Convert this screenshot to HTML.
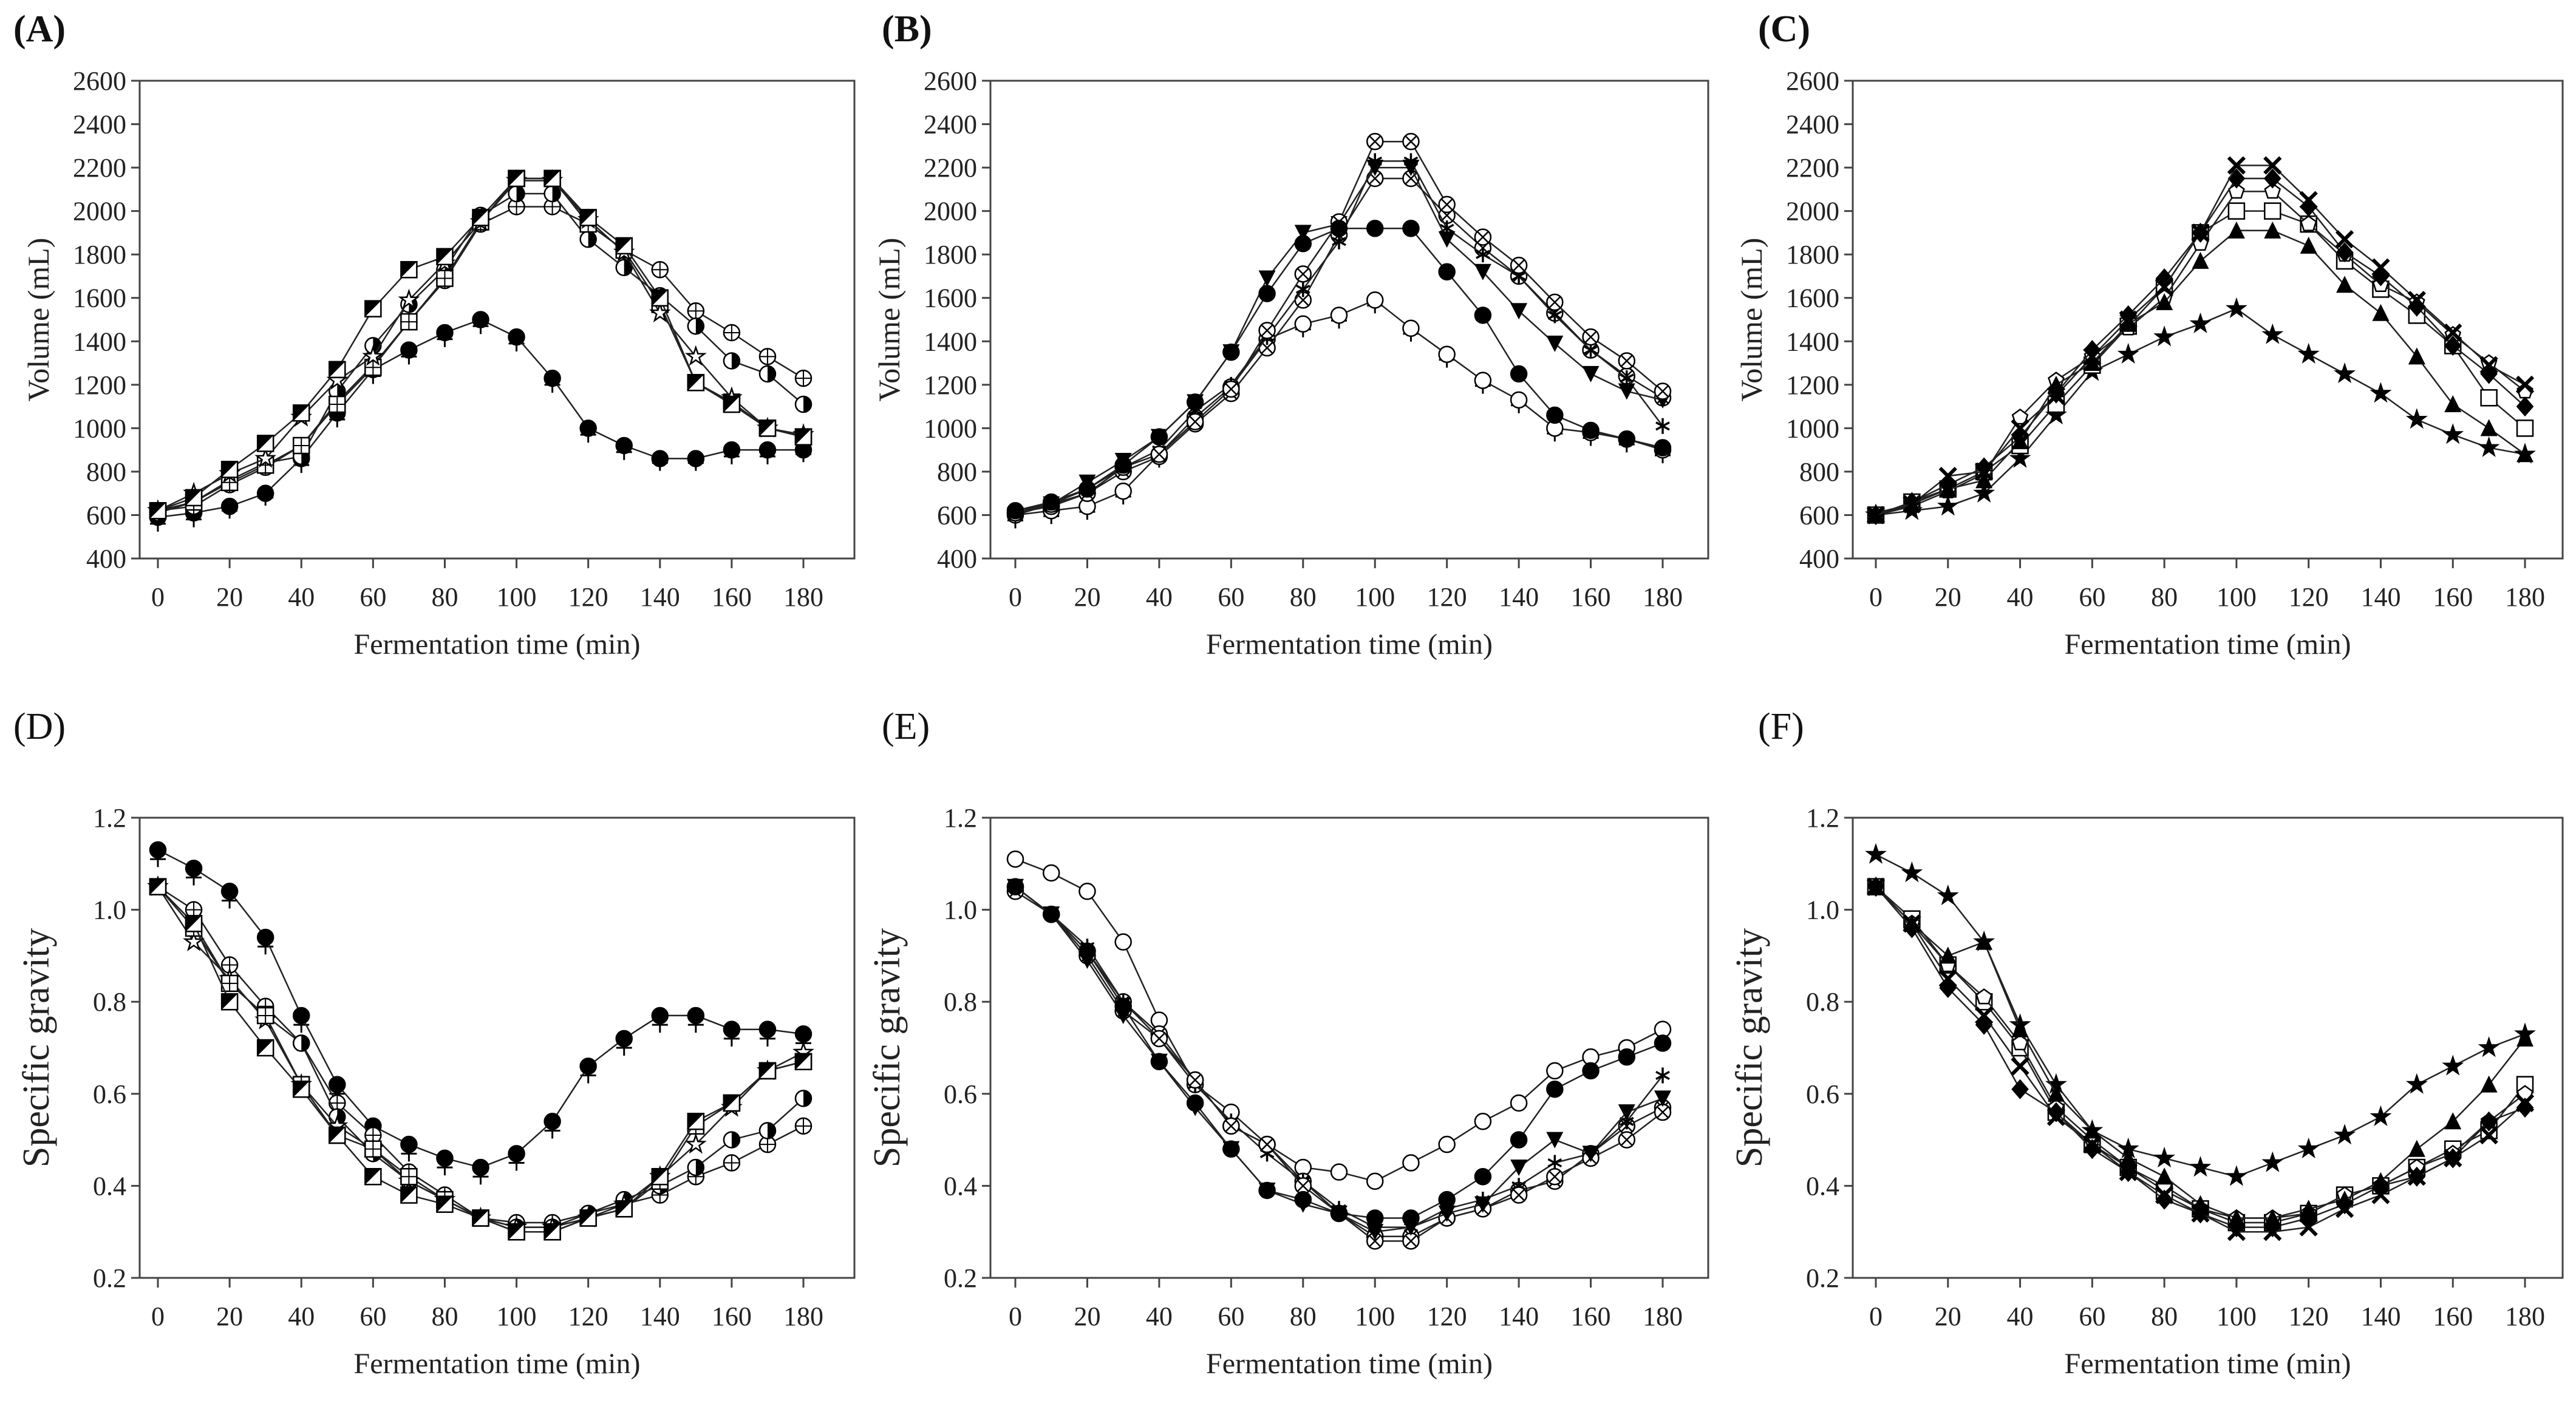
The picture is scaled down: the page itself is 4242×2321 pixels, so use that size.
<!DOCTYPE html>
<html><head><meta charset="utf-8">
<style>
html,body{margin:0;padding:0;background:#fff;}
svg{display:block;font-family:"Liberation Serif",serif;}
</style></head>
<body>
<svg id="fig" width="4242" height="2321" viewBox="0 0 4242 2321" xmlns="http://www.w3.org/2000/svg"></svg>
<script>
// ---------- data ----------
const times = [0,10,20,30,40,50,60,70,80,90,100,110,120,130,140,150,160,170,180];
const xTickLabels = [0,20,40,60,80,100,120,140,160,180];
const volTicks = [400,600,800,1000,1200,1400,1600,1800,2000,2200,2400,2600];
const sgTicks = [0.2,0.4,0.6,0.8,1.0,1.2];

const aCircle = [590,610,640,700,860,1070,1270,1360,1440,1500,1420,1230,1000,920,860,860,900,900,900];
const aPlus   = [560,580,620,680,830,1040,1240,1330,1410,1470,1390,1200,970,890,840,840,870,870,880];
const aHalfSq = [620,680,810,930,1070,1270,1550,1730,1790,1970,2150,2150,1970,1840,1600,1210,1110,1000,960];
const aCPlus  = [620,640,740,820,920,1120,1290,1490,1680,1940,2020,2020,1940,1820,1730,1540,1440,1330,1230];
const aHalfC  = [610,660,760,840,870,1170,1380,1570,1730,1980,2080,2080,1870,1740,1610,1470,1310,1250,1110];
const aStar   = [620,700,790,860,1050,1220,1330,1590,1760,1950,2140,2140,1960,1810,1530,1330,1140,1000,970];
const aGrid   = [620,660,750,830,920,1110,1280,1490,1690,1950,2150,2150,1940,1820,1570,1210,1120,1000,960];

const dCircle = [1.13,1.09,1.04,0.94,0.77,0.62,0.53,0.49,0.46,0.44,0.47,0.54,0.66,0.72,0.77,0.77,0.74,0.74,0.73];
const dPlus   = [1.11,1.07,1.02,0.92,0.75,0.60,0.51,0.47,0.44,0.42,0.45,0.52,0.64,0.70,0.75,0.75,0.72,0.72,0.71];
const dHalfSq = [1.05,0.97,0.80,0.70,0.61,0.51,0.42,0.38,0.36,0.33,0.30,0.30,0.33,0.35,0.42,0.54,0.58,0.65,0.67];
const dCPlus  = [1.05,1.00,0.88,0.79,0.71,0.58,0.51,0.43,0.38,0.33,0.32,0.32,0.34,0.36,0.38,0.42,0.45,0.49,0.53];
const dHalfC  = [1.05,0.97,0.84,0.77,0.71,0.55,0.47,0.41,0.37,0.33,0.31,0.31,0.34,0.37,0.40,0.44,0.50,0.52,0.59];
const dStar   = [1.05,0.93,0.85,0.76,0.62,0.53,0.48,0.41,0.37,0.33,0.31,0.31,0.33,0.36,0.42,0.49,0.57,0.65,0.69];
const dGrid   = [1.05,0.96,0.84,0.77,0.62,0.51,0.48,0.42,0.37,0.33,0.30,0.30,0.33,0.35,0.41,0.53,0.58,0.65,0.67];

const bOpen   = [600,620,640,710,880,1050,1190,1410,1480,1520,1590,1460,1340,1220,1130,1000,980,950,900];
const bPlus   = [575,595,615,685,855,1025,1165,1385,1455,1495,1565,1435,1315,1195,1105,975,955,925,875];
const bHex    = [610,650,700,820,880,1030,1180,1450,1710,1950,2320,2320,2030,1880,1750,1580,1420,1310,1170];
const bHeart  = [600,650,750,850,960,1120,1350,1690,1900,1940,2200,2200,1870,1720,1540,1390,1250,1170,1130];
const bAst    = [620,650,720,820,900,1080,1200,1420,1640,1860,2230,2230,1920,1800,1700,1520,1360,1230,1010];
const bClub   = [620,660,720,830,960,1120,1350,1620,1850,1920,1920,1920,1720,1520,1250,1060,990,950,910];
const bCCross = [610,640,700,800,870,1020,1160,1370,1590,1890,2150,2150,1980,1830,1700,1530,1360,1240,1140];

const eOpen   = [1.11,1.08,1.04,0.93,0.76,0.62,0.56,0.49,0.44,0.43,0.41,0.45,0.49,0.54,0.58,0.65,0.68,0.70,0.74];
const eClub   = [1.05,0.99,0.91,0.79,0.67,0.58,0.48,0.39,0.37,0.34,0.33,0.33,0.37,0.42,0.50,0.61,0.65,0.68,0.71];
const eHeart  = [1.05,0.99,0.89,0.77,0.67,0.57,0.48,0.39,0.36,0.34,0.30,0.31,0.34,0.36,0.44,0.50,0.47,0.56,0.59];
const eAst    = [1.05,0.99,0.92,0.80,0.72,0.62,0.54,0.47,0.41,0.35,0.31,0.31,0.35,0.37,0.40,0.45,0.47,0.54,0.64];
const eHex    = [1.05,0.99,0.90,0.78,0.72,0.63,0.53,0.49,0.40,0.34,0.28,0.28,0.33,0.35,0.38,0.42,0.46,0.50,0.56];
const eCCross = [1.04,0.99,0.91,0.80,0.73,0.63,0.53,0.49,0.41,0.34,0.29,0.29,0.33,0.35,0.39,0.41,0.47,0.53,0.57];

const cStar   = [600,620,640,700,860,1060,1260,1340,1420,1480,1550,1430,1340,1250,1160,1040,970,910,880];
const cX      = [600,650,780,800,1000,1150,1330,1500,1650,1900,2210,2210,2050,1870,1740,1590,1440,1290,1200];
const cDiam   = [600,660,740,820,960,1160,1360,1520,1690,1900,2150,2150,2020,1810,1700,1560,1380,1250,1100];
const cTri    = [610,650,720,760,940,1200,1300,1480,1580,1770,1910,1910,1840,1660,1530,1330,1110,1000,880];
const cSq     = [600,660,720,800,920,1110,1290,1470,1650,1900,2000,2000,1940,1770,1640,1520,1380,1140,1000];
const cPent   = [600,640,710,790,1050,1220,1330,1460,1600,1850,2090,2090,1940,1800,1660,1580,1430,1300,1170];

const fStar   = [1.12,1.08,1.03,0.93,0.75,0.62,0.52,0.48,0.46,0.44,0.42,0.45,0.48,0.51,0.55,0.62,0.66,0.70,0.73];
const fTri    = [1.05,0.97,0.90,0.93,0.74,0.60,0.52,0.46,0.42,0.36,0.33,0.33,0.35,0.37,0.41,0.48,0.54,0.62,0.72];
const fX      = [1.05,0.97,0.85,0.77,0.66,0.55,0.49,0.43,0.38,0.34,0.30,0.30,0.31,0.35,0.38,0.42,0.46,0.51,0.58];
const fDiam   = [1.05,0.96,0.83,0.75,0.61,0.56,0.48,0.43,0.37,0.34,0.31,0.31,0.33,0.36,0.40,0.42,0.46,0.54,0.57];
const fSq     = [1.05,0.98,0.88,0.80,0.70,0.56,0.49,0.44,0.39,0.35,0.32,0.32,0.34,0.38,0.40,0.44,0.48,0.52,0.62];
const fPent   = [1.05,0.97,0.88,0.81,0.71,0.57,0.50,0.44,0.40,0.35,0.33,0.33,0.34,0.38,0.40,0.44,0.47,0.54,0.60];

// ---------- drawing ----------
const NS = "http://www.w3.org/2000/svg";
const svg = document.getElementById('fig');
function mk(tag, attrs, parent){
  const e = document.createElementNS(NS, tag);
  for (const k in attrs) e.setAttribute(k, attrs[k]);
  (parent||svg).appendChild(e);
  return e;
}
const R = 13;
function marker(g, type, x, y){
  const s = {stroke:'#000','stroke-width':2.5};
  let e;
  const circ = (fill)=>mk('circle',Object.assign({cx:x,cy:y,r:R,fill:fill},s),g);
  switch(type){
    case 'fc': case 'club': e = circ('#000'); break;
    case 'oc': e = circ('#fff'); break;
    case 'plus':
      e = mk('path',{d:`M${x-R} ${y}H${x+R}M${x} ${y-R}V${y+R}`,stroke:'#000','stroke-width':3,fill:'none'},g); break;
    case 'cplus':
      circ('#fff');
      e = mk('path',{d:`M${x-R} ${y}H${x+R}M${x} ${y-R}V${y+R}`,stroke:'#000','stroke-width':2,fill:'none'},g); break;
    case 'ccross': case 'hex':
      circ('#fff');
      e = mk('path',{d:`M${x-9} ${y-9}L${x+9} ${y+9}M${x+9} ${y-9}L${x-9} ${y+9}`,stroke:'#000','stroke-width':2.5,fill:'none'},g); break;
    case 'hc':
      circ('#fff');
      e = mk('path',{d:`M${x} ${y-R}A${R} ${R} 0 0 1 ${x} ${y+R}Z`,fill:'#000'},g); break;
    case 'hsq':
      mk('rect',Object.assign({x:x-R,y:y-R,width:2*R,height:2*R,fill:'#fff'},s),g);
      e = mk('path',{d:`M${x-R} ${y-R}H${x+R}L${x-R} ${y+R}Z`,fill:'#000'},g); break;
    case 'grid':
      mk('rect',Object.assign({x:x-R,y:y-R,width:2*R,height:2*R,fill:'#fff'},s),g);
      e = mk('path',{d:`M${x-R} ${y}H${x+R}M${x} ${y-R}V${y+R}`,stroke:'#000','stroke-width':2,fill:'none'},g); break;
    case 'sq':
      e = mk('rect',Object.assign({x:x-R,y:y-R,width:2*R,height:2*R,fill:'#fff'},s),g); break;
    case 'star': case 'fstar': {
      let p=[]; for(let i=0;i<10;i++){const a=-Math.PI/2+i*Math.PI/5; const rr=i%2?R*0.45:R*1.15; p.push((x+rr*Math.cos(a)).toFixed(1)+','+(y+rr*Math.sin(a)).toFixed(1));}
      e = mk('polygon',Object.assign({points:p.join(' '),fill:type==='fstar'?'#000':'#fff'},s),g); break; }
    case 'x':
      e = mk('path',{d:`M${x-R} ${y-R}L${x+R} ${y+R}M${x+R} ${y-R}L${x-R} ${y+R}`,stroke:'#000','stroke-width':6,fill:'none'},g); break;
    case 'diam':
      e = mk('polygon',{points:`${x},${y-R-2} ${x+R},${y} ${x},${y+R+2} ${x-R},${y}`,fill:'#000',stroke:'#000','stroke-width':2},g); break;
    case 'tri':
      e = mk('polygon',{points:`${x},${y-R-2} ${x+R+1},${y+R} ${x-R-1},${y+R}`,fill:'#000'},g); break;
    case 'heart':
      e = mk('polygon',{points:`${x-R-1},${y-R} ${x+R+1},${y-R} ${x},${y+R+1}`,fill:'#000'},g); break;
    case 'ast':
      e = mk('path',{d:`M${x} ${y-R}V${y+R}M${x-11} ${y-6}L${x+11} ${y+6}M${x+11} ${y-6}L${x-11} ${y+6}`,stroke:'#000','stroke-width':3.5,fill:'none'},g); break;
    case 'pent': {
      let p=[]; for(let i=0;i<5;i++){const a=-Math.PI/2+i*2*Math.PI/5; p.push((x+R*Math.cos(a)).toFixed(1)+','+(y+R*Math.sin(a)).toFixed(1));}
      e = mk('polygon',Object.assign({points:p.join(' '),fill:'#fff'},s),g); break; }
  }
}

function panel(cfg){
  const g = mk('g',{});
  
  
  const {L,Rt,T,B,x0,x1,yMin,yMax} = cfg;
  const X = v => x0 + (v-0)/(180-0)*(x1-x0);
  const Y = v => B - (v-yMin)/(yMax-yMin)*(B-T);
  const frame = mk('rect',{x:L,y:T,width:Rt-L,height:B-T,fill:'none',stroke:'#444','stroke-width':3},g);
  
  
  // y ticks
  cfg.yTicks.forEach(v=>{
    const y = Y(v);
    mk('line',{x1:L-14,x2:L,y1:y,y2:y,stroke:'#444','stroke-width':3},g);
    const t = mk('text',{x:L-22,y:y+15,'text-anchor':'end','font-size':44,fill:'#222'},g);
    
    
    t.textContent = cfg.fmt(v);
  });
  // x ticks
  xTickLabels.forEach(v=>{
    const x = X(v);
    mk('line',{x1:x,x2:x,y1:B,y2:B+16,stroke:'#444','stroke-width':3},g);
    const t = mk('text',{x:x,y:B+78,'text-anchor':'middle','font-size':44,fill:'#222'},g);
    
    
    t.textContent = v;
  });
  const xt = mk('text',{x:(L+Rt)/2,y:B+157,'text-anchor':'middle','font-size':48,fill:'#222'},g);
  
  
  xt.textContent = 'Fermentation time (min)';
  const yc = (T+B)/2;
  const yt = mk('text',{x:0,y:0,'text-anchor':'middle','font-size':cfg.yFont,fill:'#222',transform:`translate(${L-150},${yc}) rotate(-90)`},g);
  
  
  yt.textContent = cfg.ylabel;
  const lt = mk('text',{x:cfg.lx,y:T-cfg.lOff,'font-size':62,'font-weight':cfg.bold?'bold':'normal',fill:'#111'},g);
  
  
  lt.textContent = cfg.letter;
  // series
  cfg.series.forEach(s=>{
    const sg = mk('g',{},g);
    
    
    const d = s.v.map((v,i)=>(i?'L':'M')+X(times[i]).toFixed(1)+' '+Y(v).toFixed(1)).join('');
    if (s.m!=='plus') mk('path',{d:d,fill:'none',stroke:'#222','stroke-width':2.5},sg);
    s.v.forEach((v,i)=>marker(sg,s.m,X(times[i]),Y(v)));
  });
}
const fv = v=>String(v);
const fs = v=>v.toFixed(1);
const topT=133, topB=920, botT=1347, botB=2105;
panel({name:'panel-a',letter:'(A)',bold:true,lx:22,lOff:65,L:230,Rt:1407,T:topT,B:topB,x0:260,x1:1323,yMin:400,yMax:2600,yTicks:volTicks,fmt:fv,ylabel:'Volume (mL)',yFont:50,
  series:[{v:aPlus,m:'plus'},{v:aCircle,m:'fc'},{v:aCPlus,m:'cplus'},{v:aHalfC,m:'hc'},{v:aGrid,m:'grid'},{v:aStar,m:'star'},{v:aHalfSq,m:'hsq'}]});
panel({name:'panel-b',letter:'(B)',bold:true,lx:1452,lOff:65,L:1631,Rt:2813,T:topT,B:topB,x0:1672,x1:2738,yMin:400,yMax:2600,yTicks:volTicks,fmt:fv,ylabel:'Volume (mL)',yFont:50,
  series:[{v:bPlus,m:'plus'},{v:bOpen,m:'oc'},{v:bCCross,m:'ccross'},{v:bAst,m:'ast'},{v:bHeart,m:'heart'},{v:bHex,m:'hex'},{v:bClub,m:'club'}]});
panel({name:'panel-c',letter:'(C)',bold:true,lx:2895,lOff:65,L:3051,Rt:4220,T:topT,B:topB,x0:3089,x1:4158,yMin:400,yMax:2600,yTicks:volTicks,fmt:fv,ylabel:'Volume (mL)',yFont:50,
  series:[{v:cStar,m:'fstar'},{v:cSq,m:'sq'},{v:cPent,m:'pent'},{v:cDiam,m:'diam'},{v:cTri,m:'tri'},{v:cX,m:'x'}]});
panel({name:'panel-d',letter:'(D)',bold:false,lx:22,lOff:130,L:230,Rt:1407,T:botT,B:botB,x0:260,x1:1323,yMin:0.2,yMax:1.2,yTicks:sgTicks,fmt:fs,ylabel:'Specific gravity',yFont:62,
  series:[{v:dPlus,m:'plus'},{v:dCircle,m:'fc'},{v:dCPlus,m:'cplus'},{v:dHalfC,m:'hc'},{v:dStar,m:'star'},{v:dGrid,m:'grid'},{v:dHalfSq,m:'hsq'}]});
panel({name:'panel-e',letter:'(E)',bold:false,lx:1452,lOff:130,L:1631,Rt:2813,T:botT,B:botB,x0:1672,x1:2738,yMin:0.2,yMax:1.2,yTicks:sgTicks,fmt:fs,ylabel:'Specific gravity',yFont:62,
  series:[{v:eOpen,m:'oc'},{v:eCCross,m:'ccross'},{v:eAst,m:'ast'},{v:eHex,m:'hex'},{v:eHeart,m:'heart'},{v:eClub,m:'club'}]});
panel({name:'panel-f',letter:'(F)',bold:false,lx:2895,lOff:130,L:3051,Rt:4220,T:botT,B:botB,x0:3089,x1:4158,yMin:0.2,yMax:1.2,yTicks:sgTicks,fmt:fs,ylabel:'Specific gravity',yFont:62,
  series:[{v:fStar,m:'fstar'},{v:fSq,m:'sq'},{v:fPent,m:'pent'},{v:fDiam,m:'diam'},{v:fTri,m:'tri'},{v:fX,m:'x'}]});
</script>
</body></html>
